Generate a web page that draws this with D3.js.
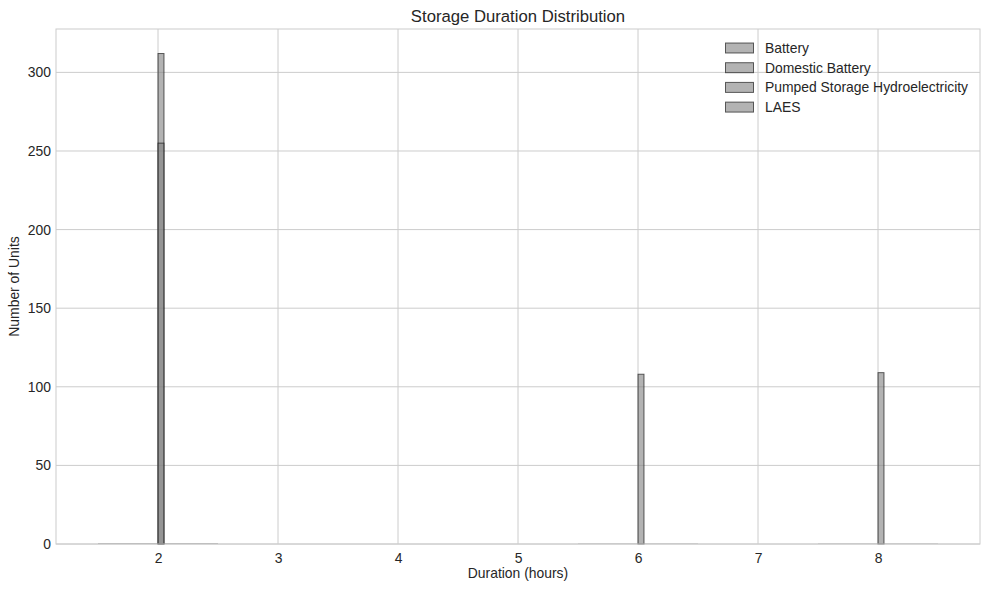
<!DOCTYPE html>
<html><head><meta charset="utf-8">
<script src="https://cdn.jsdelivr.net/npm/d3@7"></script>
<style>body{margin:0;background:#fff}text{font-family:"Liberation Sans",Arial,sans-serif;fill:#262626}</style>
</head><body><svg id="c" width="989" height="589"></svg>
<script>
const seriesNames = ["Battery", "Domestic Battery", "Pumped Storage Hydroelectricity", "LAES"];
const seriesDuration = [2, 2, 8, 6];
const seriesCount = [312, 255, 109, 108];
const xTicks = [2, 3, 4, 5, 6, 7, 8];
const yTicks = [0, 50, 100, 150, 200, 250, 300];
const nBins = 20;

const svg = d3.select("#c");
const m = {l:56, r:980, t:29, b:544};
const x = d3.scaleLinear().domain([1.15, 8.85]).range([m.l, m.r]);
const y = d3.scaleLinear().domain([0, 327.6]).range([m.b, m.t]);

// grid
svg.append("g").selectAll("line").data(xTicks).join("line")
  .attr("x1", d=>x(d)).attr("x2", d=>x(d)).attr("y1", m.t).attr("y2", m.b)
  .attr("stroke", "#cccccc").attr("stroke-width", 1);
svg.append("g").selectAll("line").data(yTicks).join("line")
  .attr("x1", m.l).attr("x2", m.r).attr("y1", d=>y(d)).attr("y2", d=>y(d))
  .attr("stroke", "#cccccc").attr("stroke-width", 1);

// histogram bars
const g = svg.append("g");
seriesNames.forEach((name, i) => {
  const v = seriesDuration[i];
  const lo = v - 0.5, w = 1 / nBins;
  const bins = d3.range(nBins).map(k => {
    const x0 = lo + k * w, x1 = x0 + w;
    return {x0, x1, n: (v >= x0 - 1e-9 && v < x1 - 1e-9) ? seriesCount[i] : 0};
  });
  bins.forEach(b => {
    if (b.n > 0) {
      g.append("rect").attr("x", x(b.x0)).attr("width", x(b.x1) - x(b.x0))
        .attr("y", y(b.n)).attr("height", y(0) - y(b.n))
        .attr("fill", "gray").attr("fill-opacity", 0.6)
        .attr("stroke", "black").attr("stroke-opacity", 0.6).attr("stroke-width", 1);
    } else {
      g.append("line").attr("x1", x(b.x0)).attr("x2", x(b.x1))
        .attr("y1", y(0) - 0.5).attr("y2", y(0) - 0.5)
        .attr("stroke", "black").attr("stroke-opacity", 0.12).attr("stroke-width", 1);
    }
  });
});

// frame
svg.append("rect").attr("x", m.l).attr("y", m.t).attr("width", m.r - m.l).attr("height", m.b - m.t)
  .attr("fill", "none").attr("stroke", "#cccccc").attr("stroke-width", 1);

// axes
const xa = d3.axisBottom(x).tickValues(xTicks).tickSize(0).tickPadding(9).tickFormat(d3.format("d"));
svg.append("g").attr("transform", `translate(0,${m.b})`).call(xa)
  .call(s => s.select(".domain").remove())
  .selectAll("text").style("font-size", "13.9px").attr("fill", "#262626")
  .style("font-family", "Liberation Sans, Arial, sans-serif");
const ya = d3.axisLeft(y).tickValues(yTicks).tickSize(0).tickPadding(5).tickFormat(d3.format("d"));
svg.append("g").attr("transform", `translate(${m.l},0)`).call(ya)
  .call(s => s.select(".domain").remove())
  .selectAll("text").style("font-size", "13.9px").attr("fill", "#262626")
  .style("font-family", "Liberation Sans, Arial, sans-serif");

// labels
svg.append("text").attr("x", (m.l + m.r) / 2).attr("y", 22).attr("text-anchor", "middle")
  .style("font-size", "16.7px").text("Storage Duration Distribution");
svg.append("text").attr("x", (m.l + m.r) / 2).attr("y", 578).attr("text-anchor", "middle")
  .style("font-size", "13.9px").text("Duration (hours)");
svg.append("text").attr("transform", `translate(19,${(m.t + m.b) / 2}) rotate(-90)`).attr("text-anchor", "middle")
  .style("font-size", "13.9px").text("Number of Units");

// legend
const lg = svg.append("g");
seriesNames.forEach((name, i) => {
  const cy = 48 + i * 19.7;
  lg.append("rect").attr("x", 725.5).attr("y", cy - 5).attr("width", 28).attr("height", 10)
    .attr("fill", "gray").attr("fill-opacity", 0.6)
    .attr("stroke", "black").attr("stroke-opacity", 0.6).attr("stroke-width", 1);
  lg.append("text").attr("x", 765).attr("y", cy + 5).style("font-size", "13.9px").text(name);
});
</script></body></html>
